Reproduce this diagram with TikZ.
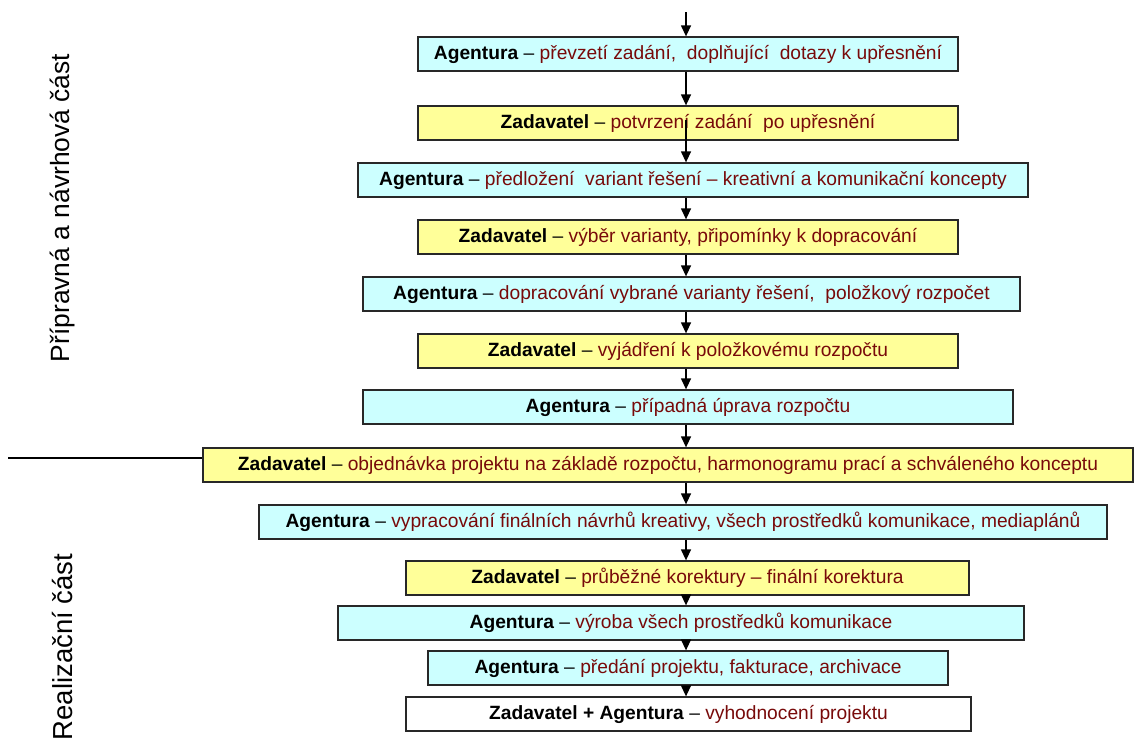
\documentclass[tikz,border=0pt]{standalone}
\usepackage{fontspec}
\setmainfont{Liberation Sans}
\usetikzlibrary{arrows.meta}
\definecolor{agcol}{HTML}{CCFFFF}
\definecolor{zacol}{HTML}{FFFF99}
\definecolor{desc}{RGB}{120,10,10}
\definecolor{edge}{RGB}{40,40,40}
\tikzset{
  stage/.style={draw=edge, line width=1.3pt, minimum height=34pt, inner sep=0pt,
    font=\fontsize{19.2}{22}\selectfont, text=desc},
  agbox/.style={stage, fill=agcol},
  zabox/.style={stage, fill=zacol},
  bothbox/.style={stage, fill=white},
  flow/.style={line width=1.3pt, -{Triangle[width=10pt,length=11pt]}},
  phase/.style={rotate=90}
}
\newcommand{\who}[1]{\textcolor{black}{\textbf{#1} –}}
\begin{document}
\begin{tikzpicture}[x=1pt,y=-1pt]
\useasboundingbox (0,0) rectangle (1134,745);

\node[agbox, minimum width=540pt] (s1) at (688,54) {\who{Agentura} převzetí zadání,\ \ doplňující\ \ dotazy k upřesnění};
\node[zabox, minimum width=540pt] (s2) at (688,123) {\who{Zadavatel} potvrzení zadání\ \ po upřesnění};
\node[agbox, minimum width=670pt] (s3) at (693,180) {\who{Agentura} předložení\ \ variant řešení – kreativní a komunikační koncepty};
\node[zabox, minimum width=540pt] (s4) at (688,237) {\who{Zadavatel} výběr varianty, připomínky k dopracování};
\node[agbox, minimum width=657pt] (s5) at (691.5,294) {\who{Agentura} dopracování vybrané varianty řešení,\ \ položkový rozpočet};
\node[zabox, minimum width=540pt] (s6) at (688,351) {\who{Zadavatel} vyjádření k položkovému rozpočtu};
\node[agbox, minimum width=650pt] (s7) at (688,407) {\who{Agentura} případná úprava rozpočtu};
\node[zabox, minimum width=930pt] (s8) at (668,465) {\who{Zadavatel} objednávka projektu na základě rozpočtu, harmonogramu prací a schváleného konceptu};
\node[agbox, minimum width=848pt] (s9) at (683,522) {\who{Agentura} vypracování finálních návrhů kreativy, všech prostředků komunikace, mediaplánů};
\node[zabox, minimum width=563pt] (s10) at (687.5,578) {\who{Zadavatel} průběžné korektury – finální korektura};
\node[agbox, minimum width=686pt] (s11) at (681,623) {\who{Agentura} výroba všech prostředků komunikace};
\node[agbox, minimum width=520pt] (s12) at (688,668) {\who{Agentura} předání projektu, fakturace, archivace};
\node[bothbox, minimum width=565pt] (s13) at (688.5,714) {\who{Zadavatel + Agentura} vyhodnocení projektu};

% flow axis
\coordinate (ax) at (686,0);
\coordinate (top) at (686,12);
\coordinate (s2mid) at (686,120);

\draw[flow] (top) -- (s1.north -| ax);
\draw[flow] (s1.south -| ax) -- (s2.north -| ax);
\draw[flow] (s2mid) -- (s3.north -| ax);
\foreach \a/\b in {s3/s4,s4/s5,s5/s6,s6/s7,s7/s8,s8/s9,s9/s10,s10/s11,s11/s12,s12/s13}
  \draw[flow] (\a.south -| ax) -- (\b.north -| ax);

% phase divider
\coordinate (divL) at (8,458);
\draw[line width=1.8pt] (divL) -- (s8.west |- divL);

% phase labels
\node[phase, font=\fontsize{26.4}{30}\selectfont] (p1) at (63,208) {Přípravná a návrhová část};
\node[phase, font=\fontsize{27.5}{30}\selectfont] (p2) at (63,647) {Realizační část};
\end{tikzpicture}
\end{document}
